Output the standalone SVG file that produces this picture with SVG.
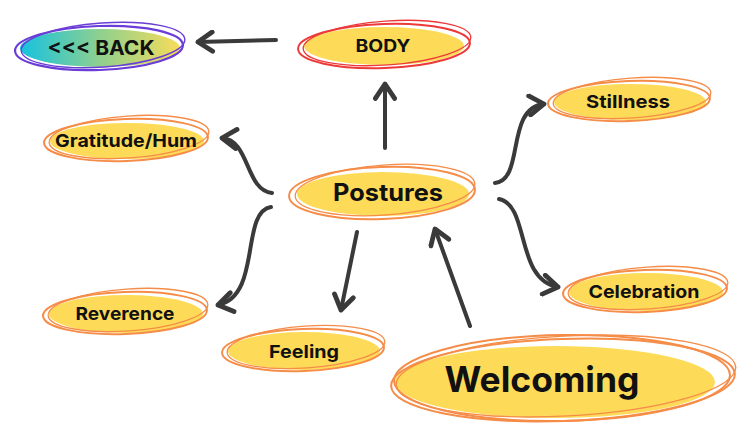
<svg xmlns="http://www.w3.org/2000/svg" width="744" height="438" viewBox="0 0 744 438">
<defs>
<linearGradient id="g" x1="0" x2="1" y1="0" y2="0">
<stop offset="0" stop-color="#14c2e0"/>
<stop offset="0.5" stop-color="#8fd08e"/>
<stop offset="1" stop-color="#f7dc5a"/>
</linearGradient>
<marker id="ah" viewBox="0 0 10 10" refX="8" refY="5" markerWidth="6" markerHeight="6" orient="auto" markerUnits="strokeWidth">
<path d="M2,1 L8,5 L2,9" fill="none" stroke="#3a3a3a" stroke-width="2" stroke-linecap="round" stroke-linejoin="round"/>
</marker>
</defs>
<style>
.fill{fill:#fddb58}
.o{fill:none;stroke:#f58c48;stroke-width:2}
.o2{fill:none;stroke:#f58c48;stroke-width:1.3}
.r{fill:none;stroke:#ec3a3a;stroke-width:2}
.r2{fill:none;stroke:#ec3a3a;stroke-width:1.3}
.p{fill:none;stroke:#6a3dd6;stroke-width:2.2}
.p2{fill:none;stroke:#6a3dd6;stroke-width:1.4}
.t{font-family:"Inter","Roboto","Liberation Sans",sans-serif;font-weight:700;fill:#111;text-anchor:middle}
.c{fill:none;stroke:#3a3a3a;stroke-width:4;stroke-linecap:round}
</style>
<g id="connectors">
<path class="c" d="M276,40 L198,42" marker-end="url(#ah)"/>
<path class="c" d="M385,148 L385,84" marker-end="url(#ah)"/>
<path class="c" d="M272,193 C245,190 250,140 222,138" stroke-width="3.2" marker-end="url(#ah)"/>
<path class="c" d="M271,207 C240,212 262,296 218,305" stroke-width="3.5" marker-end="url(#ah)"/>
<path class="c" d="M357,232 L341,310" marker-end="url(#ah)"/>
<path class="c" d="M470,326 L435,229" stroke-width="5" marker-end="url(#ah)"/>
<path class="c" d="M495,183 C525,180 505,108 544,104" stroke-width="3.2" marker-end="url(#ah)"/>
<path class="c" d="M499,199 C530,205 515,280 558,287" stroke-width="3.5" marker-end="url(#ah)"/>
</g>
<g id="back">
<ellipse cx="100" cy="48" rx="80" ry="19" fill="url(#g)"/>
<ellipse class="p" cx="99" cy="48" rx="84" ry="22" transform="rotate(-2 99 48)"/>
<ellipse class="p2" cx="103" cy="45" rx="82" ry="22" transform="rotate(-4 103 45)"/>
<text class="t" x="101" y="55" font-size="20" textLength="107" lengthAdjust="spacingAndGlyphs">&lt;&lt;&lt; BACK</text>
</g>
<g id="body">
<ellipse class="fill" cx="384" cy="46" rx="80" ry="19"/>
<ellipse class="r" cx="384" cy="46" rx="86" ry="22" transform="rotate(-2 384 46)"/>
<ellipse class="r2" cx="387" cy="43" rx="84" ry="22" transform="rotate(-4 387 43)"/>
<text class="t" x="383" y="52" font-size="17" textLength="55" lengthAdjust="spacingAndGlyphs">BODY</text>
</g>
<g id="postures">
<ellipse class="fill" cx="383" cy="194" rx="86" ry="22"/>
<ellipse class="o" cx="382" cy="193" rx="93" ry="26" transform="rotate(-2 382 193)"/>
<ellipse class="o2" cx="385" cy="190" rx="90" ry="25" transform="rotate(-4 385 190)"/>
<text class="t" x="388" y="201" font-size="24" textLength="110" lengthAdjust="spacingAndGlyphs">Postures</text>
</g>
<g id="gratitude">
<ellipse class="fill" cx="127" cy="141" rx="77" ry="18"/>
<ellipse class="o" cx="126" cy="140" rx="82" ry="21" transform="rotate(-2 126 140)"/>
<ellipse class="o2" cx="129" cy="137" rx="80" ry="21" transform="rotate(-4 129 137)"/>
<text class="t" x="126" y="147" font-size="18" textLength="142" lengthAdjust="spacingAndGlyphs">Gratitude/Hum</text>
</g>
<g id="stillness">
<ellipse class="fill" cx="630" cy="102" rx="76" ry="18"/>
<ellipse class="o" cx="629" cy="101" rx="81" ry="20" transform="rotate(-2 629 101)"/>
<ellipse class="o2" cx="632" cy="98" rx="79" ry="20" transform="rotate(-4 632 98)"/>
<text class="t" x="628" y="108" font-size="18" textLength="84" lengthAdjust="spacingAndGlyphs">Stillness</text>
</g>
<g id="celebration">
<ellipse class="fill" cx="646" cy="292" rx="77" ry="19"/>
<ellipse class="o" cx="645" cy="291" rx="82" ry="21" transform="rotate(-2 645 291)"/>
<ellipse class="o2" cx="648" cy="288" rx="80" ry="21" transform="rotate(-4 648 288)"/>
<text class="t" x="644" y="298" font-size="18" textLength="111" lengthAdjust="spacingAndGlyphs">Celebration</text>
</g>
<g id="reverence">
<ellipse class="fill" cx="126" cy="314" rx="77" ry="19"/>
<ellipse class="o" cx="125" cy="313" rx="82" ry="21" transform="rotate(-2 125 313)"/>
<ellipse class="o2" cx="128" cy="310" rx="80" ry="21" transform="rotate(-4 128 310)"/>
<text class="t" x="125" y="320" font-size="18" textLength="99" lengthAdjust="spacingAndGlyphs">Reverence</text>
</g>
<g id="feeling">
<ellipse class="fill" cx="304" cy="351" rx="76" ry="19"/>
<ellipse class="o" cx="303" cy="350" rx="81" ry="21" transform="rotate(-2 303 350)"/>
<ellipse class="o2" cx="306" cy="347" rx="79" ry="21" transform="rotate(-4 306 347)"/>
<text class="t" x="304" y="358" font-size="18" textLength="70" lengthAdjust="spacingAndGlyphs">Feeling</text>
</g>
<g id="welcoming">
<ellipse class="fill" cx="555" cy="382" rx="160" ry="36"/>
<ellipse class="o" cx="563" cy="380" rx="172" ry="41" transform="rotate(-2 563 380)"/>
<ellipse class="o2" cx="566" cy="376" rx="170" ry="40" transform="rotate(-3 566 376)"/>
<ellipse class="o" cx="562" cy="378" rx="168" ry="43" transform="rotate(-1 562 378)"/>
<text class="t" x="542" y="392" font-size="35" textLength="195" lengthAdjust="spacingAndGlyphs">Welcoming</text>
</g>
</svg>
